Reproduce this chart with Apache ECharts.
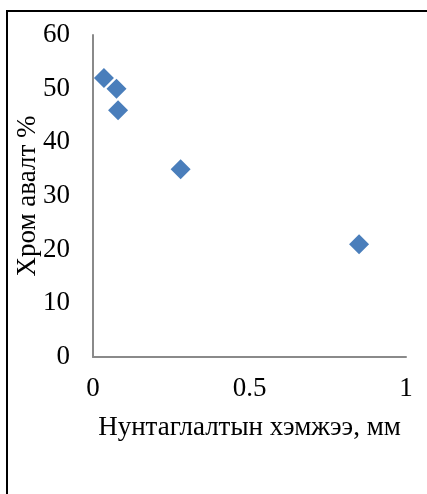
<!DOCTYPE html>
<html>
<head>
<meta charset="utf-8">
<script src="https://cdn.jsdelivr.net/npm/echarts@6/dist/echarts.min.js"></script>
<style>
  html, body { margin: 0; padding: 0; background: #fff; }
  #chart { width: 427px; height: 494px; }
</style>
</head>
<body>
<div id="chart"></div>
<script>
// Grinding size (mm) against chromium extraction (%)
const grindSize = [0.035, 0.075, 0.08, 0.28, 0.85];
const chromeYield = [52, 50, 46, 35, 21];
const xTitle = 'Нунтаглалтын хэмжээ, мм';
const yTitle = 'Хром авалт %';

const points = grindSize.map((x, i) => [x, chromeYield[i]]);
const serif = '"Liberation Serif", "DejaVu Serif", serif';
const fs = 27;

const chart = echarts.init(document.getElementById('chart'), null, { renderer: 'canvas' });
chart.setOption({
  animation: false,
  backgroundColor: '#ffffff',
  grid: { left: 93, right: 21, top: 35, bottom: 137, containLabel: false, outerBoundsMode: 'none' },
  xAxis: {
    type: 'value', min: 0, max: 1, interval: 0.5,
    name: xTitle, nameLocation: 'middle', nameGap: 57, nameMoveOverlap: false,
    nameTextStyle: { fontFamily: serif, fontSize: fs, color: '#000' },
    axisLine: { show: true, lineStyle: { color: '#8a8a8a', width: 2 } },
    axisTick: { show: false },
    splitLine: { show: false },
    axisLabel: { fontFamily: serif, fontSize: fs, color: '#000', margin: 18 }
  },
  yAxis: {
    type: 'value', min: 0, max: 60, interval: 10,
    name: yTitle, nameLocation: 'middle', nameGap: 52, nameRotate: 90, nameMoveOverlap: false,
    nameTextStyle: { fontFamily: serif, fontSize: fs, color: '#000' },
    axisLine: { show: true, lineStyle: { color: '#8a8a8a', width: 2 } },
    axisTick: { show: false },
    splitLine: { show: false },
    axisLabel: { fontFamily: serif, fontSize: fs, color: '#000', margin: 23 }
  },
  series: [{
    type: 'scatter',
    data: points,
    symbol: 'diamond',
    symbolSize: 20,
    itemStyle: { color: '#4a7ebb', opacity: 1 }
  }],
  graphic: [
    { type: 'line', silent: true, shape: { x1: 7, y1: 10, x2: 7, y2: 494 }, style: { stroke: '#000', lineWidth: 2 } },
    { type: 'line', silent: true, shape: { x1: 6, y1: 11, x2: 427, y2: 11 }, style: { stroke: '#000', lineWidth: 2 } }
  ]
});
</script>
</body>
</html>
